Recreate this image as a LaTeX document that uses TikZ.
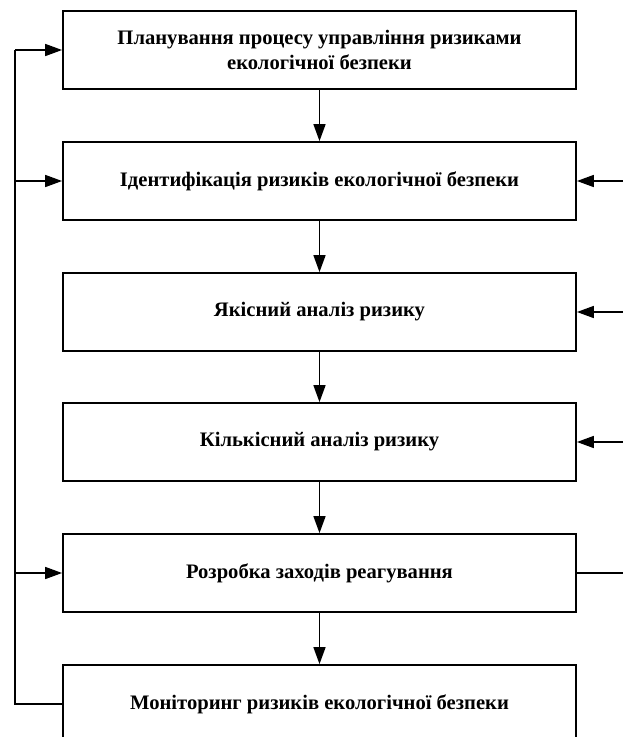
\documentclass[tikz,border=0pt]{standalone}
\usepackage{fontspec}
\setmainfont{Liberation Serif}
\usetikzlibrary{arrows.meta}
\newcommand{\boxw}{513pt}
\newcommand{\boxh}{78pt}

\begin{document}
\begin{tikzpicture}[x=1pt,y=-1pt,
    stage/.style={draw, line width=1.8pt, minimum width=\boxw, minimum height=\boxh,
        inner sep=0pt, align=center, font=\bfseries\fontsize{20.6}{25}\selectfont},
    flow/.style={line width=1.6pt, -{Triangle[length=17pt,width=12pt]}},
    link/.style={line width=1.6pt}]
    \clip (0,0) rectangle (623,737);
    %\draw[help lines] (0,0) grid (623,737);
    \node[stage] (plan) at (319.5,50) {Планування процесу управління ризиками\\екологічної безпеки};
    \node[stage] (ident) at (319.5,181) {Ідентифікація ризиків екологічної безпеки};
    \node[stage] (qual) at (319.5,312) {Якісний аналіз ризику};
    \node[stage] (quant) at (319.5,442) {Кількісний аналіз ризику};
    \node[stage] (resp) at (319.5,573) {Розробка заходів реагування};
    \node[stage] (mon) at (319.5,704) {Моніторинг ризиків екологічної безпеки};
    % main chain
    \foreach \a/\b in {plan/ident, ident/qual, qual/quant, quant/resp, resp/mon} {
        \draw[flow] (\a) -- (\b);
    }
    % feedback on the left
    \coordinate (lbot) at (15,704);
    \coordinate (ltop) at (15,50);
    \draw[link] (mon.west) -- (lbot) -- (ltop);
    \foreach \t in {plan, ident, resp} {
        \draw[flow] (ltop |- \t.west) -- (\t.west);
    }
    % inputs on the right
    \foreach \t in {ident, qual, quant} {
        \coordinate (r\t) at (623,0 |- \t.east);
        \draw[flow] (r\t) -- (\t.east);
    }
    \coordinate (rresp) at (623,0 |- resp.east);
    \draw[link] (resp.east) -- (rresp);
\end{tikzpicture}
\end{document}
